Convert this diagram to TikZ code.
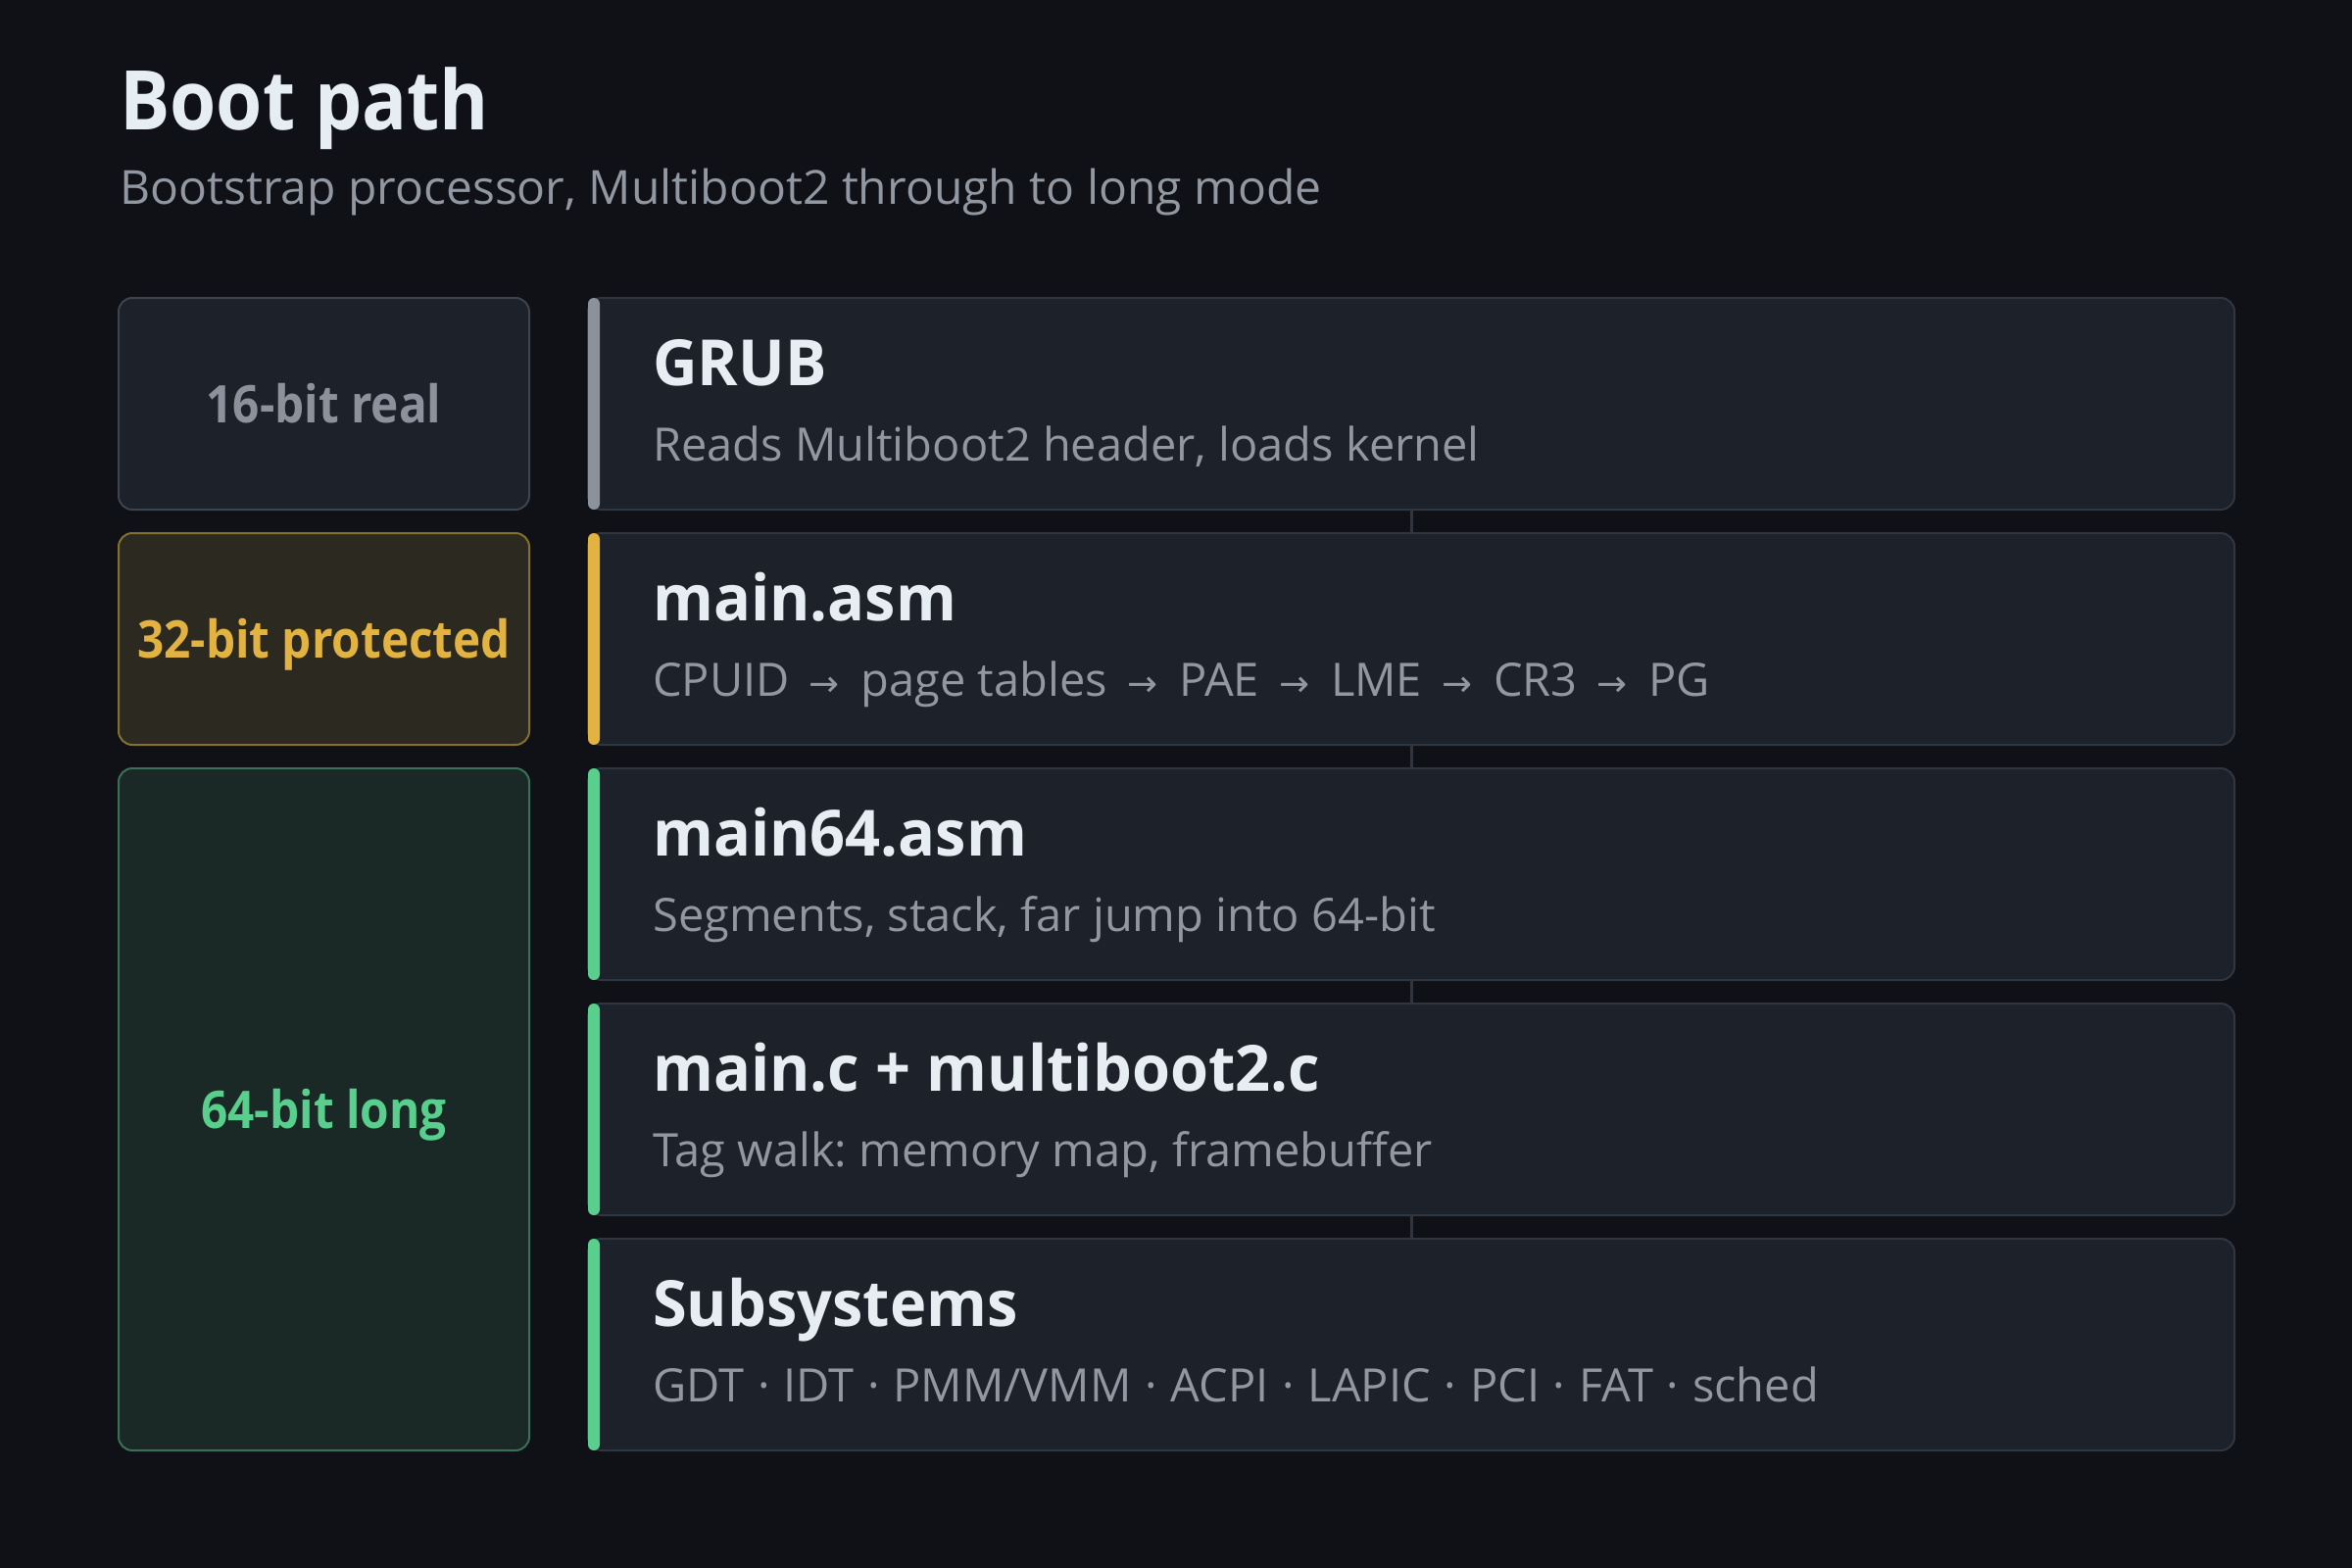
\documentclass[tikz,border=0pt]{standalone}
\usepackage{fontspec}
\setmainfont{Open Sans}
\newfontfamily\headf{Open Sans}[FakeStretch=0.91]
\newfontfamily\labf{Open Sans}[FakeStretch=0.90]
\newfontfamily\cardf{Open Sans}[FakeStretch=0.97]
\newfontfamily\arrowf{DejaVu Sans}
\definecolor{bg}{HTML}{0F1117}
\definecolor{cardbg}{HTML}{1D212A}
\definecolor{cardline}{HTML}{30363F}
\definecolor{titletext}{HTML}{E6EDF3}
\definecolor{subtext}{HTML}{9198A1}
\definecolor{graybar}{HTML}{8B929C}
\definecolor{amber}{HTML}{E3B341}
\definecolor{amberbg}{HTML}{2B2920}
\definecolor{amberline}{HTML}{86702F}
\definecolor{green}{HTML}{58CF8C}
\definecolor{greenbg}{HTML}{1A2925}
\definecolor{greenline}{HTML}{3B7058}
\definecolor{grayline}{HTML}{3D444D}
\newcommand{\ar}{\hspace{20pt}{\arrowf\fontsize{37}{44}\selectfont →}\hspace{22pt}}
\frenchspacing
\begin{document}
\begin{tikzpicture}[x=1pt,y=-1pt,
  card/.style={draw=cardline, fill=cardbg, line width=2pt, rounded corners=14pt,
    minimum width=1680pt, minimum height=216pt, inner sep=0pt},
  modebox/.style={line width=2pt, rounded corners=14pt, minimum width=419pt, inner sep=0pt},
  modelabel/.style={anchor=base, inner sep=0pt, font=\labf\bfseries\fontsize{53}{64}\selectfont},
  ttl/.style={anchor=base west, inner sep=0pt, text=titletext, font=\cardf\bfseries\fontsize{65}{78}\selectfont},
  sub/.style={anchor=base west, inner sep=0pt, text=subtext, font=\fontsize{47}{56}\selectfont},
  link/.style={draw=cardline, line width=3pt},
]
\fill[bg] (0,0) rectangle (2400,1600);
\useasboundingbox (0,0) rectangle (2400,1600);

% heading
\node[anchor=base west, inner sep=0pt, text=titletext, font=\headf\bfseries\fontsize{84}{100}\selectfont] (title) at (122,132) {Boot path};
\node[anchor=base west, inner sep=0pt, text=subtext, font=\fontsize{48}{60}\selectfont] (subtitle) at (122,208) {Bootstrap processor, Multiboot2 through to long mode};

% mode boxes
\node[modebox, draw=grayline, fill=cardbg, minimum height=216pt] (m16) at (330.5,412) {};
\node[modebox, draw=amberline, fill=amberbg, minimum height=216pt] (m32) at (330.5,652) {};
\node[modebox, draw=greenline, fill=greenbg, minimum height=696pt] (m64) at (330.5,1132) {};
\node[modelabel, text=graybar] (l16) at (330.5,431) {16-bit real};
\node[modelabel, text=amber] (l32) at (330.5,671) {32-bit protected};
\node[modelabel, text=green] (l64) at (330.5,1151) {64-bit long};

% cards
\node[card] (c0) at (1440,412) {};
\node[card] (c1) at (1440,652) {};
\node[card] (c2) at (1440,892) {};
\node[card] (c3) at (1440,1132) {};
\node[card] (c4) at (1440,1372) {};

% connectors
\draw[link] (c0.south) -- (c1.north);
\draw[link] (c1.south) -- (c2.north);
\draw[link] (c2.south) -- (c3.north);
\draw[link] (c3.south) -- (c4.north);

% accent bars
\fill[graybar, rounded corners=6pt] (600,304) rectangle (612,520);
\fill[amber, rounded corners=6pt] (600,544) rectangle (612,760);
\fill[green, rounded corners=6pt] (600,784) rectangle (612,1000);
\fill[green, rounded corners=6pt] (600,1024) rectangle (612,1240);
\fill[green, rounded corners=6pt] (600,1264) rectangle (612,1480);

% card texts
\node[ttl] (t0) at (666,393) {GRUB};
\node[sub] (s0) at (666,470) {Reads Multiboot2 header, loads kernel};
\node[ttl] (t1) at (666,633) {main.asm};
\node[sub] (s1) at (666,710) {CPUID\ar page tables\ar PAE\ar LME\ar CR3\ar PG};
\node[ttl] (t2) at (666,873) {main64.asm};
\node[sub] (s2) at (666,950) {Segments, stack, far jump into 64-bit};
\node[ttl] (t3) at (666,1113) {main.c + multiboot2.c};
\node[sub] (s3) at (666,1190) {Tag walk: memory map, framebuffer};
\node[ttl] (t4) at (666,1353) {Subsystems};
\node[sub] (s4) at (666,1430) {\spaceskip=13.8pt GDT · IDT · PMM/VMM · ACPI · LAPIC · PCI · FAT · sched};
\end{tikzpicture}
\end{document}
